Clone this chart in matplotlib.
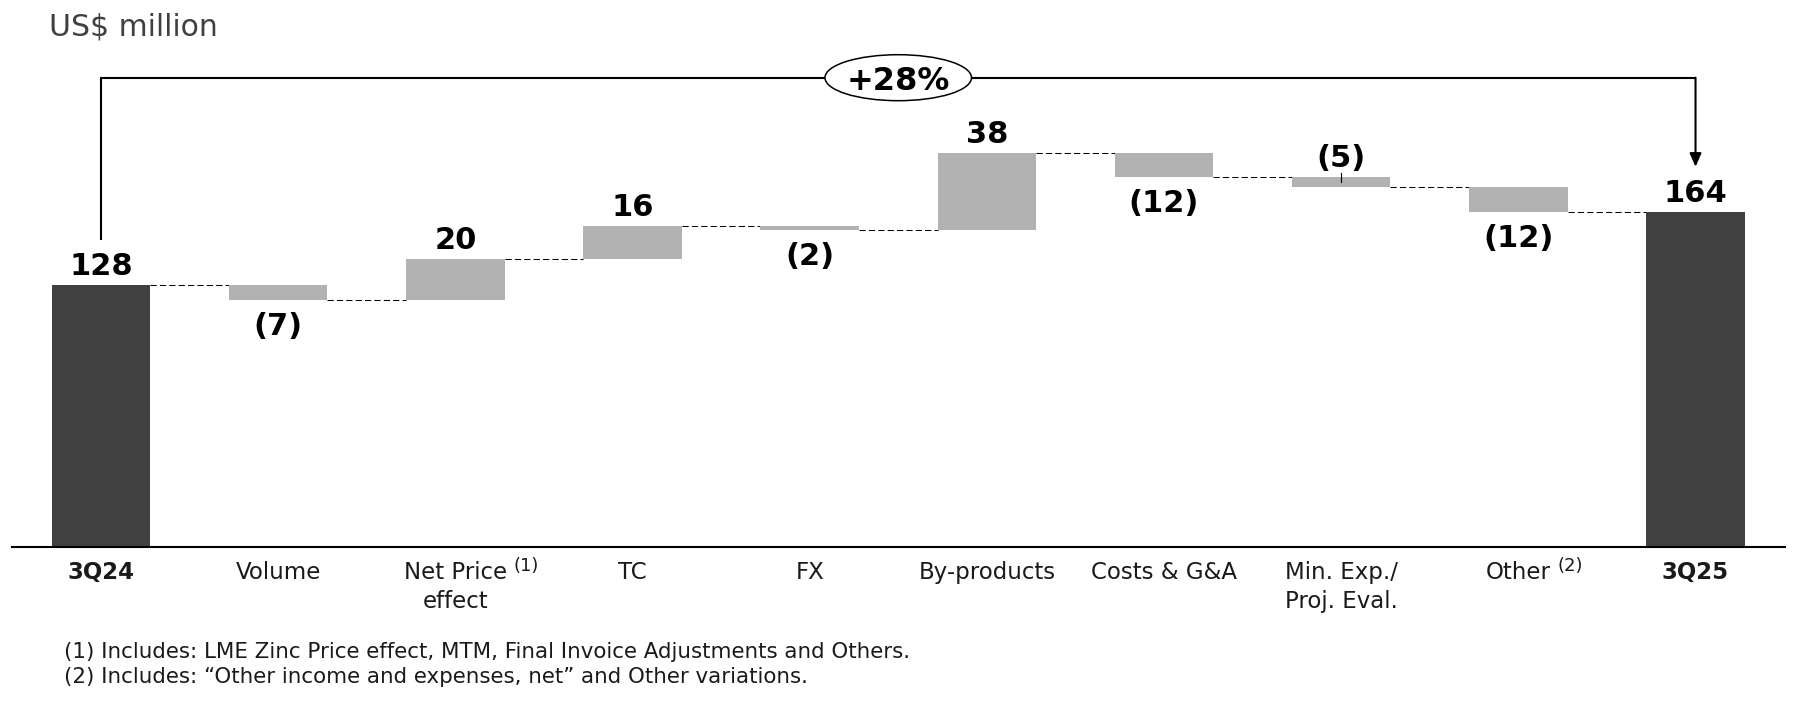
import matplotlib
matplotlib.use("Agg")
import matplotlib.pyplot as plt
from matplotlib.patches import Ellipse

plt.rcParams['font.family'] = ['DejaVu Sans']

# ---------------- data ----------------
categories = ["3Q24", "Volume", "Net Price", "TC", "FX", "By-products",
              "Costs & G&A", "Min. Exp./", "Other", "3Q25"]
categories_line2 = ["", "", "effect", "", "", "", "", "Proj. Eval.", "", ""]
footnote_marks = ["", "", "(1)", "", "", "", "", "", "(2)", ""]
values = [128, -7, 20, 16, -2, 38, -12, -5, -12, 164]
is_total = [True, False, False, False, False, False, False, False, False, True]
label_above = [True, False, True, True, False, True, False, True, False, True]
unit_label = "US$ million"
footnotes = ["(1) Includes: LME Zinc Price effect, MTM, Final Invoice Adjustments and Others.",
             "(2) Includes: \u201cOther income and expenses, net\u201d and Other variations."]

# ---------------- layout ----------------
W, H = 1798, 702
fig = plt.figure(figsize=(W / 100, H / 100), dpi=100)
ax = fig.add_axes([11.5 / W, 155 / H, (1785 - 11.5) / W, 1 - 155 / H])
ax.set_xlim(-0.505, 9.505)
ax.set_ylim(0, 547 / 2.044)
for s in ("top", "left", "right"):
    ax.spines[s].set_visible(False)
ax.spines["bottom"].set_linewidth(1.5)
ax.spines["bottom"].set_color("black")
ax.set_xticks([])
ax.set_yticks([])
ax.patch.set_alpha(0)

# compute waterfall geometry
bottoms, heights, levels = [], [], []
run = 0
for v, t in zip(values, is_total):
    if t:
        bottoms.append(0)
        heights.append(v)
        run = v
    else:
        bottoms.append(run if v >= 0 else run + v)
        heights.append(abs(v))
        run += v
    levels.append(run)

x = list(range(len(values)))
bw = 0.556
colors = ["#404040" if t else "#b2b2b2" for t in is_total]
ax.bar(x, heights, bottom=bottoms, width=bw, color=colors, zorder=2)

# connectors
ax.hlines(levels[:-1], [i + bw / 2 for i in x[:-1]], [i + 1 - bw / 2 for i in x[:-1]],
          colors="black", linestyles=(0, (6, 3)), linewidth=0.75, zorder=1)

# value labels
for i, v in enumerate(values):
    txt = f"{v}" if v >= 0 else f"({-v})"
    top = bottoms[i] + heights[i]
    if label_above[i]:
        ax.annotate(txt, xy=(i, top), xytext=(0, 10), textcoords="offset pixels",
                    ha="center", va="baseline", fontsize=22, fontweight="bold", color="black")
        if v < 0:
            ax.plot([i, i], [top + 2, top - heights[i] / 2], color="black", lw=0.8, zorder=3)
    else:
        ax.annotate(txt, xy=(i, bottoms[i]), xytext=(0, -12), textcoords="offset pixels",
                    ha="center", va="top", fontsize=22, fontweight="bold", color="black")

# category labels
xt = ax.get_xaxis_transform()
for i in x:
    t1 = ax.annotate(categories[i], xy=(i, 0), xycoords=xt, xytext=(0, -14),
                     textcoords="offset pixels", ha="center", va="top", fontsize=16.5,
                     fontweight="bold" if is_total[i] else "normal", color="#1a1a1a",
                     annotation_clip=False)
    if categories_line2[i]:
        ax.annotate(categories_line2[i], xy=(i, 0), xycoords=xt, xytext=(0, -43),
                    textcoords="offset pixels", ha="center", va="top", fontsize=16.5,
                    color="#1a1a1a", annotation_clip=False)
    if footnote_marks[i]:
        ax.annotate(footnote_marks[i], xy=(1, 1), xycoords=t1, xytext=(7, 4),
                    textcoords="offset pixels", ha="left", va="top", fontsize=13,
                    color="#1a1a1a", annotation_clip=False)

# growth bracket
bracket_y = 229.6
start_y = values[0] + 22
end_y = values[-1] + 22
ax.plot([0, 0, x[-1]], [start_y, bracket_y, bracket_y], color="black", lw=1.5,
        solid_joinstyle="miter", solid_capstyle="butt", zorder=3)
ax.annotate("", xy=(x[-1], end_y), xytext=(x[-1], bracket_y),
            arrowprops=dict(arrowstyle="-|>,head_length=0.8,head_width=0.35",
                            color="black", lw=1.5, shrinkA=0, shrinkB=0), zorder=3)
cx = x[-1] / 2
ax.add_patch(Ellipse((cx, bracket_y), width=0.827, height=22.5, facecolor="white",
                     edgecolor="black", lw=1.1, zorder=5))
pct = round((values[-1] / values[0] - 1) * 100)
ax.annotate(f"+{pct}%", xy=(cx, bracket_y), xytext=(0, -12), textcoords="offset pixels",
            ha="center", va="baseline", fontsize=23, fontweight="bold", zorder=6)

# texts
fig.text(49 / W, 1 - 12 / H, unit_label, ha="left", va="top", fontsize=21.5, color="#404040")
fig.text(64 / W, 1 - 652 / H, footnotes[0], ha="left", va="center", fontsize=15.4, color="#1a1a1a")
fig.text(64 / W, 1 - 677 / H, footnotes[1], ha="left", va="center", fontsize=15.4, color="#1a1a1a")

fig.savefig("out.png", dpi=100)
